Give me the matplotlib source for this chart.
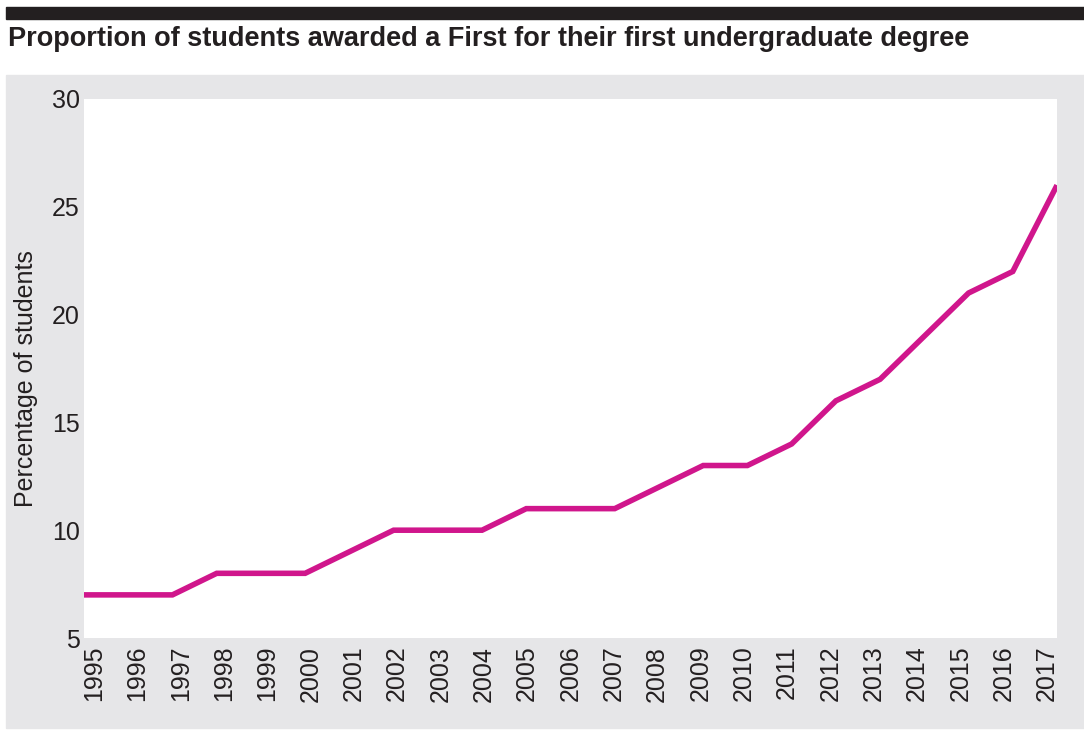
import matplotlib
matplotlib.use("Agg")
import matplotlib.pyplot as plt
from matplotlib.patches import Rectangle
from matplotlib.transforms import ScaledTranslation

plt.rcParams['font.family'] = ['Liberation Sans', 'DejaVu Sans']

# Share of students awarded a First (%)
years = list(range(1995, 2018))
first_pct = [7, 7, 7, 8, 8, 8, 9, 10, 10, 10, 11, 11, 11, 12, 13, 13, 14, 16, 17, 19, 21, 22, 26]
y_ticks = [5, 10, 15, 20, 25, 30]

W, H = 1084, 733
fig = plt.figure(figsize=(W / 100, H / 100), dpi=100)

# grey panel behind the chart and black strip on top
fig.patches.append(Rectangle((6 / W, 1 - 728 / H), 1 - 6 / W, (728 - 75) / H,
                             transform=fig.transFigure, color='#e6e6e8', zorder=-2))
fig.patches.append(Rectangle((6 / W, 1 - 19 / H), 1 - 6 / W, 12 / H,
                             transform=fig.transFigure, color='#231f20', zorder=-2))
fig.text(8 / W, 1 - 46 / H, 'Proportion of students awarded a First for their first undergraduate degree',
         fontsize=19.5, fontweight='bold', color='#231f20', va='baseline', ha='left')

ax = fig.add_axes([84 / W, 1 - 638 / H, (1057 - 84) / W, (638 - 99) / H])
ax.set_zorder(1)
ax.set_facecolor('white')
ax.plot(years, first_pct, color='#d0168c', linewidth=4, solid_capstyle='butt', solid_joinstyle='miter')

ax.set_xlim(1995, 2017)
ax.set_ylim(5, 30)
ax.set_xticks(years)
ax.set_xticklabels([str(y) for y in years], rotation=90)
ax.set_yticks(y_ticks)
for s in ax.spines.values():
    s.set_visible(False)
ax.tick_params(axis='both', length=0, labelsize=18, labelcolor='#231f20')
ax.tick_params(axis='x', pad=5.5)
ax.tick_params(axis='y', pad=3)

# year labels sit slightly squeezed inward compared with the data points
n = len(years) - 1
for i, lab in enumerate(ax.get_xticklabels()):
    dx = (10 - 20 * i / n) / 100
    lab.set_transform(lab.get_transform() + ScaledTranslation(dx, 0, fig.dpi_scale_trans))

ax.set_ylabel('Percentage of students', fontsize=18, color='#231f20')
ax.yaxis.set_label_coords(-0.047, 0.482)

fig.savefig('out.png', dpi=100)
